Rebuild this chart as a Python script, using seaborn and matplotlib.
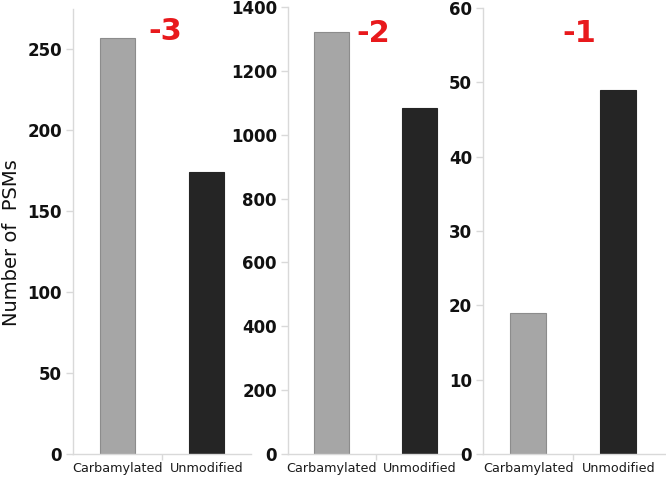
import matplotlib
matplotlib.use("Agg")
import matplotlib.pyplot as plt
import seaborn as sns
import pandas as pd

categories = ["Carbamylated", "Unmodified"]
charge_labels = ["-3", "-2", "-1"]
psm_charge3 = [257, 174]
psm_charge2 = [1323, 1085]
psm_charge1 = [19, 49]
y_tops = [275, 1400, 60]
y_ticks = [list(range(0, 251, 50)), list(range(0, 1401, 200)), list(range(0, 61, 10))]

bar_colors = ["#A6A6A6", "#252525"]
edge_colors = ["#8C8C8C", "#252525"]
axis_grey = "#D9D9D9"

sns.set_theme(style="white")
plt.rcParams["font.family"] = ["DejaVu Sans"]

W, H = 666, 480
fig = plt.figure(figsize=(W / 100, H / 100), dpi=100)

# panel boxes in pixels: left, right, top
boxes = [(73, 251, 9), (288, 463, 7), (483, 668, 8)]
zero_y = 454
label_pos = [(165, 31), (373, 33), (579, 34)]

series = [psm_charge3, psm_charge2, psm_charge1]
for i, (vals, box) in enumerate(zip(series, boxes)):
    left, right, top = box
    ax = fig.add_axes([left / W, (H - zero_y) / H, (right - left) / W, (zero_y - top) / H])
    df = pd.DataFrame({"cat": categories, "psm": vals})
    sns.barplot(data=df, x="cat", y="psm", hue="cat", palette=bar_colors,
                width=0.4, legend=False, ax=ax, saturation=1)
    for p, ec in zip(ax.patches, edge_colors):
        p.set_edgecolor(ec)
        p.set_linewidth(0.8)
    ax.set_xlim(-0.5, 1.5 if i < 2 else 1.55)
    ax.set_ylim(0, y_tops[i])
    ax.set_yticks(y_ticks[i])
    ax.set_xlabel("")
    ax.set_ylabel("")
    for s in ["top", "right"]:
        ax.spines[s].set_visible(False)
    for s in ["left", "bottom"]:
        ax.spines[s].set_color(axis_grey)
        ax.spines[s].set_linewidth(1)
    ax.set_xticks([0.5], minor=True)
    ax.tick_params(axis="x", which="major", length=0, pad=6, labelsize=9.2, colors="#1a1a1a")
    ax.tick_params(axis="x", which="minor", bottom=True, length=4, width=1, color=axis_grey, direction="out")
    ax.tick_params(axis="y", left=True, length=5, width=1, color=axis_grey, direction="out",
                   labelsize=12, labelcolor="#111111", pad=3)
    for t in ax.get_yticklabels():
        t.set_fontweight("bold")
    ax.patch.set_alpha(0)
    lx, ly = label_pos[i]
    fig.text(lx / W, (H - ly) / H, charge_labels[i], color="#E8191C", fontsize=22,
             fontweight="bold", ha="center", va="center")

fig.text(12 / W, (H - 243) / H, "Number of  PSMs", rotation=90, fontsize=14,
         ha="center", va="center", color="#111111")

fig.savefig("out.png", dpi=100)
